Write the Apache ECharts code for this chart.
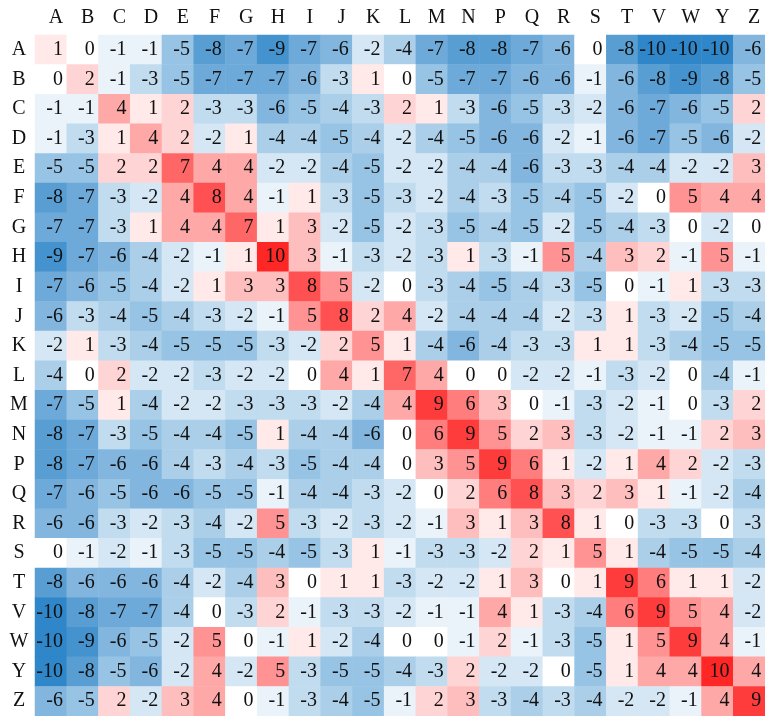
<!DOCTYPE html>
<html>
<head>
<meta charset="utf-8">
<script src="https://cdn.jsdelivr.net/npm/echarts@6/dist/echarts.min.js"></script>
<style>
html,body{margin:0;padding:0;background:#fff;}
#main{width:765px;height:716px;}
</style>
</head>
<body>
<div id="main"></div>
<script>
// amino acid letters
var letters = ['A','B','C','D','E','F','G','H','I','J','K','L','M','N','P','Q','R','S','T','V','W','Y','Z'];

var rowA = [1,0,-1,-1,-5,-8,-7,-9,-7,-6,-2,-4,-7,-8,-8,-7,-6,0,-8,-10,-10,-10,-6];
var rowB = [0,2,-1,-3,-5,-7,-7,-7,-6,-3,1,0,-5,-7,-7,-6,-6,-1,-6,-8,-9,-8,-5];
var rowC = [-1,-1,4,1,2,-3,-3,-6,-5,-4,-3,2,1,-3,-6,-5,-3,-2,-6,-7,-6,-5,2];
var rowD = [-1,-3,1,4,2,-2,1,-4,-4,-5,-4,-2,-4,-5,-6,-6,-2,-1,-6,-7,-5,-6,-2];
var rowE = [-5,-5,2,2,7,4,4,-2,-2,-4,-5,-2,-2,-4,-4,-6,-3,-3,-4,-4,-2,-2,3];
var rowF = [-8,-7,-3,-2,4,8,4,-1,1,-3,-5,-3,-2,-4,-3,-5,-4,-5,-2,0,5,4,4];
var rowG = [-7,-7,-3,1,4,4,7,1,3,-2,-5,-2,-3,-5,-4,-5,-2,-5,-4,-3,0,-2,0];
var rowH = [-9,-7,-6,-4,-2,-1,1,10,3,-1,-3,-2,-3,1,-3,-1,5,-4,3,2,-1,5,-1];
var rowI = [-7,-6,-5,-4,-2,1,3,3,8,5,-2,0,-3,-4,-5,-4,-3,-5,0,-1,1,-3,-3];
var rowJ = [-6,-3,-4,-5,-4,-3,-2,-1,5,8,2,4,-2,-4,-4,-4,-2,-3,1,-3,-2,-5,-4];
var rowK = [-2,1,-3,-4,-5,-5,-5,-3,-2,2,5,1,-4,-6,-4,-3,-3,1,1,-3,-4,-5,-5];
var rowL = [-4,0,2,-2,-2,-3,-2,-2,0,4,1,7,4,0,0,-2,-2,-1,-3,-2,0,-4,-1];
var rowM = [-7,-5,1,-4,-2,-2,-3,-3,-3,-2,-4,4,9,6,3,0,-1,-3,-2,-1,0,-3,2];
var rowN = [-8,-7,-3,-5,-4,-4,-5,1,-4,-4,-6,0,6,9,5,2,3,-3,-2,-1,-1,2,3];
var rowP = [-8,-7,-6,-6,-4,-3,-4,-3,-5,-4,-4,0,3,5,9,6,1,-2,1,4,2,-2,-3];
var rowQ = [-7,-6,-5,-6,-6,-5,-5,-1,-4,-4,-3,-2,0,2,6,8,3,2,3,1,-1,-2,-4];
var rowR = [-6,-6,-3,-2,-3,-4,-2,5,-3,-2,-3,-2,-1,3,1,3,8,1,0,-3,-3,0,-3];
var rowS = [0,-1,-2,-1,-3,-5,-5,-4,-5,-3,1,-1,-3,-3,-2,2,1,5,1,-4,-5,-5,-4];
var rowT = [-8,-6,-6,-6,-4,-2,-4,3,0,1,1,-3,-2,-2,1,3,0,1,9,6,1,1,-2];
var rowV = [-10,-8,-7,-7,-4,0,-3,2,-1,-3,-3,-2,-1,-1,4,1,-3,-4,6,9,5,4,-2];
var rowW = [-10,-9,-6,-5,-2,5,0,-1,1,-2,-4,0,0,-1,2,-1,-3,-5,1,5,9,4,-1];
var rowY = [-10,-8,-5,-6,-2,4,-2,5,-3,-5,-5,-4,-3,2,-2,-2,0,-5,1,4,4,10,4];
var rowZ = [-6,-5,2,-2,3,4,0,-1,-3,-4,-5,-1,2,3,-3,-4,-3,-4,-2,-2,-1,4,9];

var rows = [rowA,rowB,rowC,rowD,rowE,rowF,rowG,rowH,rowI,rowJ,rowK,rowL,
	rowM,rowN,rowP,rowQ,rowR,rowS,rowT,rowV,rowW,rowY,rowZ];

var data = [];
for(var i=0;i<rows.length;i++){
	for(var j=0;j<rows[i].length;j++){
		data.push([j, i, rows[i][j]]);
	}
}

var font = 'Liberation Serif';
var myChart = echarts.init(document.getElementById('main'));
var option = {
	animation: false,
	textStyle: {fontFamily: font},
	grid: {left: 35, right: 0, top: 35, bottom: 0},
	xAxis: {
		type: 'category',
		position: 'top',
		data: letters,
		axisLine: {show: false},
		axisTick: {show: false},
		splitLine: {show: false},
		axisLabel: {
			margin: 7,
			fontFamily: font,
			fontSize: 20,
			color: '#111',
			padding: [0, 0, 0, 10]
		}
	},
	yAxis: {
		type: 'category',
		inverse: true,
		data: letters,
		axisLine: {show: false},
		axisTick: {show: false},
		splitLine: {show: false},
		axisLabel: {
			margin: 16,
			align: 'center',
			fontFamily: font,
			fontSize: 20,
			color: '#111'
		}
	},
	visualMap: {
		show: false,
		min: -10,
		max: 10,
		calculable: false,
		inRange: {
			color: ['#2f86c8', '#ffffff', '#ff2626']
		}
	},
	series: [{
		type: 'heatmap',
		data: data,
		label: {
			show: true,
			position: 'insideRight',
			distance: 4,
			fontFamily: font,
			fontSize: 20,
			color: '#111'
		},
		emphasis: {disabled: true}
	}]
};
myChart.setOption(option);
</script>
</body>
</html>
